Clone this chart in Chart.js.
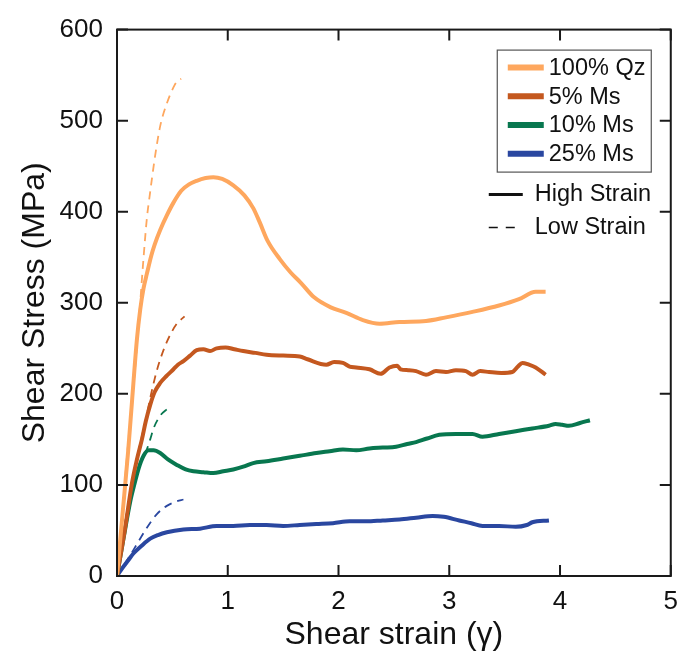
<!DOCTYPE html>
<html>
<head>
<meta charset="utf-8">
<script src="https://cdn.jsdelivr.net/npm/chart.js@4.4.0/dist/chart.umd.min.js"></script>
<style>
    body { margin: 0; background: #fff; }
    #shearChart { display: block; }
</style>
</head>
<body>
<canvas id="shearChart" width="688" height="654"></canvas>
<script>
// series labels + colours (legend order)
const seriesNames = ['100% Qz', '5% Ms', '10% Ms', '25% Ms'];
const seriesColors = ['#fea75e', '#c4581f', '#08774f', '#2a47a0'];
const strainNames = ['High Strain', 'Low Strain'];

const xTicks = [0, 1, 2, 3, 4, 5];
const yTicks = [0, 100, 200, 300, 400, 500, 600];

// 100% Qz
const qzHighX = [0, 0.05, 0.1, 0.135, 0.18, 0.21, 0.24, 0.27, 0.31, 0.34, 0.39, 0.45, 0.51, 0.58, 0.65, 0.72, 0.8, 0.87, 0.95, 1.05, 1.15, 1.23, 1.29, 1.36, 1.47, 1.57, 1.66, 1.78, 1.93, 2.07, 2.22, 2.37, 2.55, 2.79, 2.97, 3.21, 3.45, 3.63, 3.78, 3.87];
const qzHighY = [0, 68, 136, 191, 260, 293, 316, 332, 352, 364, 380, 396, 410, 423, 430, 434, 437, 438, 436, 429, 418, 404, 388, 368, 348, 333, 322, 306, 295, 289, 281, 277, 279, 280, 284, 290, 297, 304, 312, 312];
const qzLowX = [0, 0.1, 0.18, 0.24, 0.27, 0.3, 0.34, 0.39, 0.45, 0.52, 0.55, 0.58];
const qzLowY = [0, 145, 252, 350, 393, 422, 458, 494, 519, 539, 544, 546];

// 5% Ms
const ms5HighX = [0, 0.07, 0.135, 0.18, 0.225, 0.26, 0.3, 0.34, 0.39, 0.45, 0.51, 0.55, 0.6, 0.66, 0.72, 0.78, 0.84, 0.9, 0.98, 1.06, 1.14, 1.25, 1.35, 1.5, 1.65, 1.72, 1.89, 1.96, 2.04, 2.1, 2.16, 2.28, 2.38, 2.46, 2.53, 2.56, 2.63, 2.7, 2.79, 2.88, 2.97, 3.06, 3.15, 3.21, 3.28, 3.36, 3.47, 3.57, 3.62, 3.66, 3.72, 3.78, 3.87];
const ms5HighY = [0, 50, 102, 128, 150, 170, 188, 202, 212, 220, 227, 232, 236, 242, 248, 249, 247, 250, 251, 249, 247, 245, 243, 242, 241, 238, 232, 235, 234, 230, 229, 227, 222, 229, 231, 227, 226, 225, 221, 225, 224, 226, 225, 221, 225, 224, 223, 224, 230, 234, 232, 229, 221];
const ms5LowX = [0, 0.1, 0.2, 0.26, 0.31, 0.37, 0.45, 0.54, 0.61];
const ms5LowY = [0, 78, 140, 172, 201, 230, 257, 277, 285];

// 10% Ms
const ms10HighX = [0, 0.06, 0.12, 0.16, 0.195, 0.24, 0.285, 0.33, 0.39, 0.46, 0.54, 0.62, 0.69, 0.78, 0.87, 0.96, 1.05, 1.14, 1.23, 1.35, 1.5, 1.65, 1.8, 1.92, 2.04, 2.16, 2.28, 2.4, 2.52, 2.62, 2.7, 2.8, 2.91, 3.06, 3.21, 3.3, 3.45, 3.6, 3.75, 3.9, 3.96, 4.02, 4.08, 4.18, 4.27];
const ms10HighY = [0, 42, 82, 102, 118, 132, 138, 138, 135, 128, 122, 117, 115, 114, 113, 115, 117, 120, 124, 126, 129, 132, 135, 137, 139, 138, 140, 141, 142, 145, 147, 151, 155, 156, 156, 153, 156, 159, 162, 165, 167, 166, 165, 168, 171];
const ms10LowX = [0, 0.06, 0.12, 0.2, 0.26, 0.3, 0.33, 0.39, 0.44, 0.48];
const ms10LowY = [0, 44, 85, 120, 136, 150, 162, 176, 182, 185];

// 25% Ms
const ms25HighX = [0, 0.05, 0.1, 0.15, 0.22, 0.3, 0.37, 0.45, 0.6, 0.75, 0.9, 1.05, 1.2, 1.35, 1.5, 1.65, 1.8, 1.95, 2.1, 2.25, 2.4, 2.55, 2.7, 2.85, 2.95, 3.09, 3.2, 3.3, 3.45, 3.6, 3.7, 3.75, 3.9];
const ms25HighY = [0, 9, 17, 25, 33, 41, 45, 48, 51, 52, 55, 55, 56, 56, 55, 56, 57, 58, 60, 60, 61, 62, 64, 66, 65, 61, 58, 55, 55, 54, 56, 59, 61];
const ms25LowX = [0, 0.09, 0.18, 0.27, 0.36, 0.45, 0.54, 0.6];
const ms25LowY = [0, 17, 35, 53, 68, 77, 82, 84];

const FONT = '"Liberation Sans", Arial, Helvetica, sans-serif';

const toPoints = (xs, ys) => xs.map((x, i) => ({ x: x, y: ys[i] }));

const makeSet = (label, xs, ys, color, dashed) => ({
    label: label,
    data: toPoints(xs, ys),
    borderColor: color,
    backgroundColor: color,
    borderWidth: dashed ? 1.8 : 4,
    borderDash: dashed ? [8, 6] : [],
    pointRadius: 0,
    cubicInterpolationMode: 'monotone',
    fill: false
});

// frame + inward ticks on all four sides
const frameTicks = {
    id: 'frameTicks',
    afterDatasetsDraw(chart) {
        const { ctx, chartArea: a, scales } = chart;
        ctx.save();
        ctx.strokeStyle = '#1a1a1a';
        ctx.lineWidth = 2;
        ctx.strokeRect(a.left, a.top, a.right - a.left, a.bottom - a.top);
        ctx.beginPath();
        xTicks.forEach(v => {
            const px = scales.x.getPixelForValue(v);
            ctx.moveTo(px, a.bottom); ctx.lineTo(px, a.bottom - 11);
            ctx.moveTo(px, a.top); ctx.lineTo(px, a.top + 11);
        });
        yTicks.forEach(v => {
            const py = scales.y.getPixelForValue(v);
            ctx.moveTo(a.left, py); ctx.lineTo(a.left + 11, py);
            ctx.moveTo(a.right, py); ctx.lineTo(a.right - 11, py);
        });
        ctx.stroke();
        ctx.restore();
    }
};

const customLegend = {
    id: 'customLegend',
    afterDraw(chart) {
        const { ctx, chartArea: a } = chart;
        const boxL = a.right - 174, boxT = a.top + 20;
        ctx.save();
        ctx.strokeStyle = '#555';
        ctx.lineWidth = 1.2;
        ctx.strokeRect(boxL + 0.5, boxT + 0.5, 154, 122);
        ctx.font = '23.5px ' + FONT;
        ctx.textBaseline = 'middle';
        ctx.fillStyle = '#111';
        seriesNames.forEach((name, i) => {
            const y = boxT + 18 + i * 28.7;
            ctx.strokeStyle = seriesColors[i];
            ctx.lineWidth = 6;
            ctx.beginPath();
            ctx.moveTo(boxL + 11, y); ctx.lineTo(boxL + 47, y);
            ctx.stroke();
            ctx.fillText(name, boxL + 52, y + 1);
        });
        // line style key
        const lx = boxL - 8;
        ctx.strokeStyle = '#111';
        ctx.lineWidth = 3;
        ctx.beginPath();
        ctx.moveTo(lx, boxT + 145); ctx.lineTo(lx + 34, boxT + 145);
        ctx.stroke();
        ctx.fillText(strainNames[0], lx + 46, boxT + 145);
        ctx.lineWidth = 1.5;
        ctx.setLineDash([9, 8]);
        ctx.beginPath();
        ctx.moveTo(lx, boxT + 178); ctx.lineTo(lx + 34, boxT + 178);
        ctx.stroke();
        ctx.setLineDash([]);
        ctx.fillText(strainNames[1], lx + 46, boxT + 178);
        ctx.restore();
    }
};

const main = () => {
    const canvas = document.querySelector('#shearChart');
    const highX = [qzHighX, ms5HighX, ms10HighX, ms25HighX];
    const highY = [qzHighY, ms5HighY, ms10HighY, ms25HighY];
    const lowX = [qzLowX, ms5LowX, ms10LowX, ms25LowX];
    const lowY = [qzLowY, ms5LowY, ms10LowY, ms25LowY];

    const datasets = [];
    seriesNames.forEach((name, i) => {
        datasets.push(makeSet(name + ' ' + strainNames[1], lowX[i], lowY[i], seriesColors[i], true));
        datasets.push(makeSet(name + ' ' + strainNames[0], highX[i], highY[i], seriesColors[i], false));
    });

    new Chart(canvas.getContext('2d'), {
        type: 'line',
        data: { datasets: datasets },
        plugins: [frameTicks, customLegend],
        options: {
            responsive: false,
            animation: false,
            layout: { padding: { top: 22, right: 16, left: 0, bottom: 0 } },
            plugins: { legend: { display: false }, tooltip: { enabled: false } },
            scales: {
                x: {
                    type: 'linear',
                    min: 0,
                    max: 5,
                    afterFit: (s) => { s.height = 78; },
                    afterBuildTicks: (s) => { s.ticks = xTicks.map(v => ({ value: v })); },
                    grid: { display: false, drawTicks: false },
                    border: { display: false },
                    ticks: { color: '#111', padding: 10, font: { family: FONT, size: 26 }, maxRotation: 0 },
                    title: { display: true, text: 'Shear strain (γ)', color: '#111', font: { family: FONT, size: 32 }, padding: { bottom: 0 } }
                },
                y: {
                    min: 0,
                    max: 600,
                    afterFit: (s) => { s.width = 117; },
                    afterBuildTicks: (s) => { s.ticks = yTicks.map(v => ({ value: v })); },
                    grid: { display: false, drawTicks: false },
                    border: { display: false },
                    ticks: { color: '#111', padding: 14, font: { family: FONT, size: 26 } },
                    title: { display: true, text: 'Shear Stress (MPa)', color: '#111', font: { family: FONT, size: 32 }, padding: { top: 16 } }
                }
            }
        }
    });
};

window.addEventListener('DOMContentLoaded', main);
</script>
</body>
</html>
